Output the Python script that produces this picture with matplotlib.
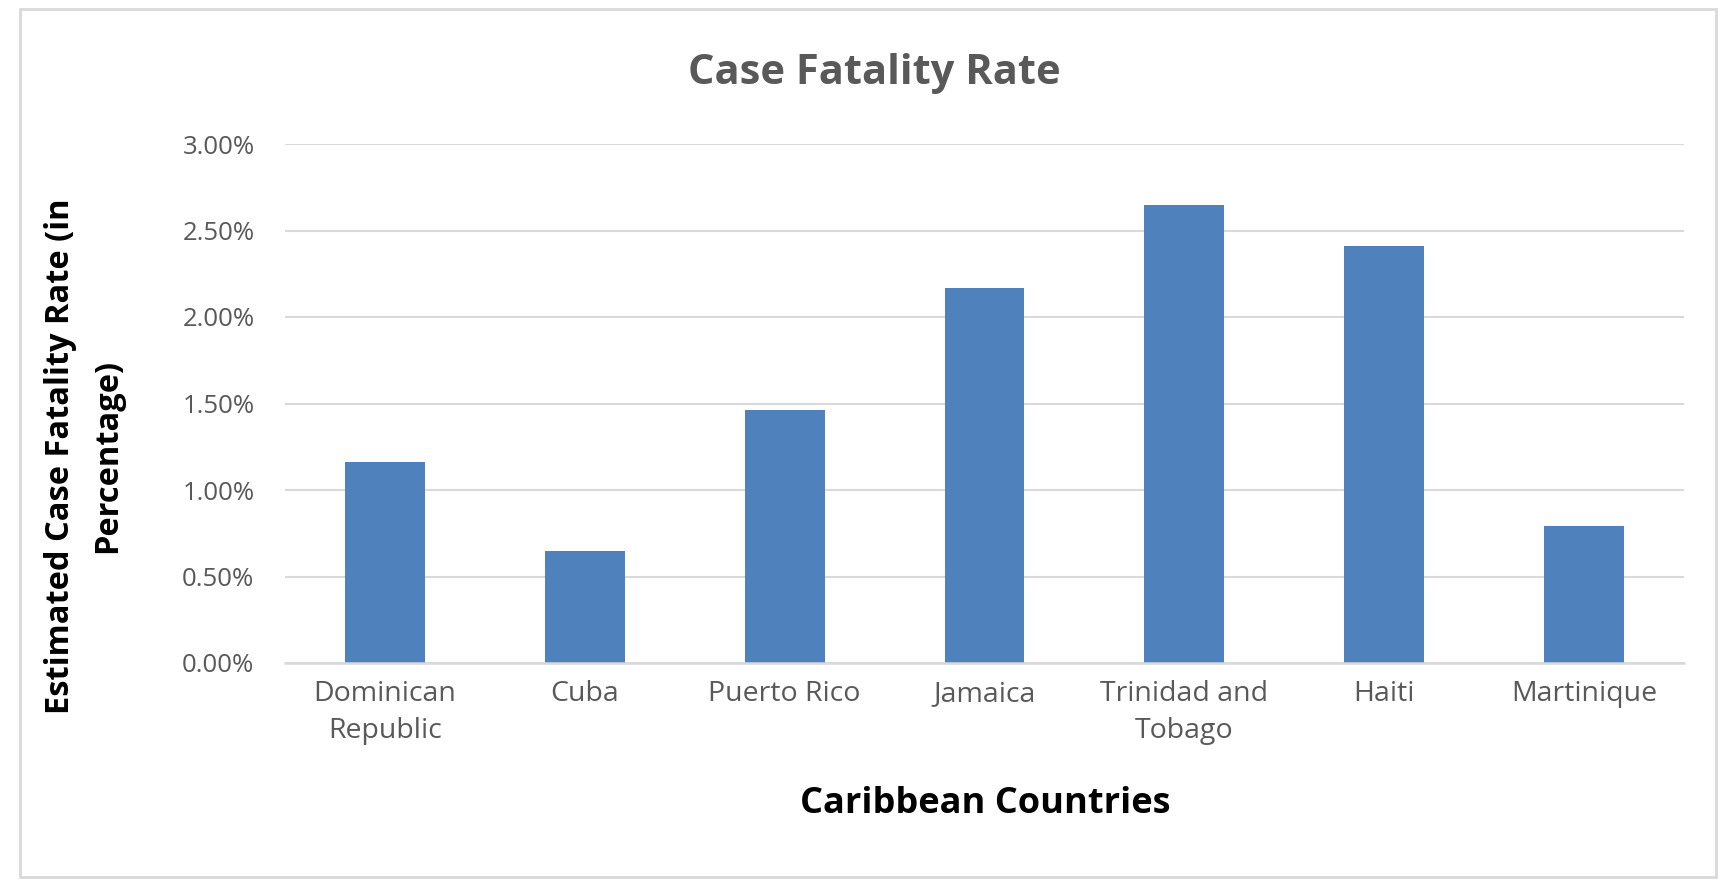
import matplotlib
matplotlib.use("Agg")
import matplotlib.pyplot as plt
from matplotlib.patches import Rectangle
from matplotlib.ticker import FuncFormatter

countries = ["Dominican\nRepublic", "Cuba", "Puerto Rico", "Jamaica",
             "Trinidad and\nTobago", "Haiti", "Martinique"]
cfr = [1.16, 0.65, 1.46, 2.17, 2.65, 2.41, 0.79]  # percent
yticks = [0.0, 0.5, 1.0, 1.5, 2.0, 2.5, 3.0]

FONT = ["Open Sans", "DejaVu Sans"]
plt.rcParams['font.family'] = FONT

W, H = 1734, 884
fig = plt.figure(figsize=(W / 100, H / 100), dpi=100)
fig.patch.set_facecolor("white")

# outer chart border
fig.patches.append(Rectangle((20 / W, 1 - 877 / H), (1716 - 20) / W, (877 - 9) / H,
                             transform=fig.transFigure, fill=False,
                             edgecolor="#D9D9D9", linewidth=2))

ax = fig.add_axes([285 / W, 1 - 663 / H, (1684 - 285) / W, (663 - 144) / H])
x = list(range(len(countries)))
ax.bar(x, cfr, width=0.4, color="#4F81BD", zorder=3)
ax.set_xlim(-0.5, len(countries) - 0.5)
ax.set_ylim(0, 3.0)
ax.set_yticks(yticks)
ax.yaxis.set_major_formatter(FuncFormatter(lambda v, p: f"{v:.2f}%"))
ax.set_xticks(x)
ax.set_xticklabels(countries, linespacing=1.45)
ax.grid(axis="y", color="#D9D9D9", linewidth=1.5, zorder=0)
for s in ["top", "right", "left"]:
    ax.spines[s].set_visible(False)
ax.spines["bottom"].set_color("#D9D9D9")
ax.spines["bottom"].set_linewidth(1.8)
ax.spines["bottom"].set_zorder(4)
ax.tick_params(axis="y", length=0, pad=22, labelsize=18.5, labelcolor="#595959")
ax.tick_params(axis="x", length=0, pad=12, labelsize=20.5, labelcolor="#595959")

fig.text(874 / W, 1 - 73 / H, "Case Fatality Rate", ha="center", va="center",
         fontsize=30, fontweight="bold", color="#595959")
fig.text(985 / W, 1 - 804 / H, "Caribbean Countries", ha="center", va="center",
         fontsize=26, fontweight="bold", color="black")
fig.text(84 / W, 1 - 456 / H, "Estimated Case Fatality Rate (in\nPercentage)",
         ha="center", va="center", rotation=90, fontsize=23.5,
         fontweight="bold", color="black", linespacing=1.55)

fig.savefig("out.png", dpi=100)
